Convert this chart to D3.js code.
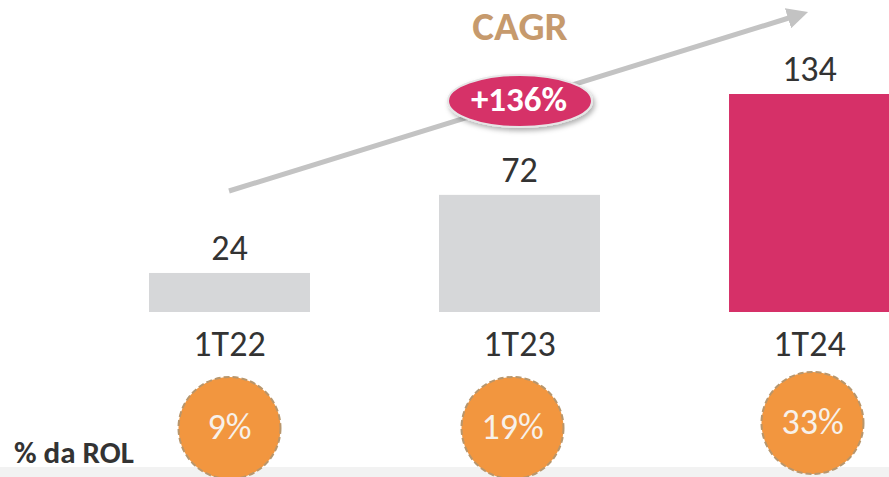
<!DOCTYPE html>
<html>
<head>
<meta charset="utf-8">
<script src="https://cdn.jsdelivr.net/npm/d3@7"></script>
<style>
  html, body { margin: 0; padding: 0; background: #fff; }
  svg { display: block; font-family: Carlito, Lato, "Open Sans", sans-serif; }
</style>
</head>
<body>
<script>
'use strict';

const categories = ['1T22', '1T23', '1T24'];
const values     = [24, 72, 134];
const rolShare   = ['9%', '19%', '33%'];
const cagrLabel  = '+136%';

const width  = 889;
const height = 477;

const colors = {
  grey:   '#d6d7d9',
  pink:   '#d63068',
  orange: '#f2963f',
  tan:    '#c69a6d',
  text:   '#333333',
  arrow:  '#c3c3c3'
};

// circle nudges relative to bar centre (layout only)
const circleDx = [0, -7, 3];
const circleCy = [428, 428, 423];

const svg = d3.select('body').append('svg')
  .attr('width', width)
  .attr('height', height)
  .attr('viewBox', '0 0 ' + width + ' ' + height);

const x = d3.scaleBand()
  .domain(categories)
  .range([84.5, 954.5])
  .paddingInner(0.445)
  .paddingOuter(0.2225);

const y = d3.scaleLinear()
  .domain([0, 134])
  .range([312, 94]);

// bottom band
svg.append('rect')
  .attr('x', 0).attr('y', 467)
  .attr('width', width).attr('height', height - 467)
  .attr('fill', '#f2f2f2');

// bars
svg.selectAll('rect.bar')
  .data(values)
  .join('rect')
  .attr('class', 'bar')
  .attr('x', (d, i) => x(categories[i]))
  .attr('y', d => y(d))
  .attr('width', x.bandwidth())
  .attr('height', d => y(0) - y(d))
  .attr('fill', (d, i) => i === values.length - 1 ? colors.pink : colors.grey);

// value labels
svg.selectAll('text.value')
  .data(values)
  .join('text')
  .attr('class', 'value')
  .attr('x', (d, i) => x(categories[i]) + x.bandwidth() / 2)
  .attr('y', d => y(d) - 13)
  .attr('text-anchor', 'middle')
  .attr('font-size', 36)
  .attr('fill', colors.text)
  .text(d => d);

// category labels
svg.selectAll('text.cat')
  .data(categories)
  .join('text')
  .attr('class', 'cat')
  .attr('x', d => x(d) + x.bandwidth() / 2)
  .attr('y', 356)
  .attr('text-anchor', 'middle')
  .attr('font-size', 36)
  .attr('fill', colors.text)
  .text(d => d);

// CAGR arrow
const defs = svg.append('defs');
defs.append('marker')
  .attr('id', 'head')
  .attr('viewBox', '0 0 10 10')
  .attr('refX', 2).attr('refY', 5)
  .attr('markerWidth', 4.2).attr('markerHeight', 4.2)
  .attr('orient', 'auto')
  .append('path')
  .attr('d', 'M0,0 L10,5 L0,10 Z')
  .attr('fill', colors.arrow);

const shadow = defs.append('filter').attr('id', 'shadow')
  .attr('x', '-20%').attr('y', '-30%').attr('width', '140%').attr('height', '160%');
shadow.append('feDropShadow')
  .attr('dx', 2).attr('dy', 3).attr('stdDeviation', 2.5)
  .attr('flood-color', '#000').attr('flood-opacity', 0.3);

svg.append('line')
  .attr('x1', 229).attr('y1', 191)
  .attr('x2', 792).attr('y2', 17)
  .attr('stroke', colors.arrow)
  .attr('stroke-width', 5)
  .attr('marker-end', 'url(#head)');

svg.append('text')
  .attr('x', 520).attr('y', 40)
  .attr('text-anchor', 'middle')
  .attr('font-size', 41)
  .attr('font-weight', 'bold')
  .attr('fill', colors.tan)
  .text('CAGR');

svg.append('ellipse')
  .attr('cx', 520).attr('cy', 101)
  .attr('rx', 72).attr('ry', 26)
  .attr('fill', colors.pink)
  .attr('stroke', '#e6e6e6')
  .attr('stroke-width', 2)
  .attr('filter', 'url(#shadow)');

svg.append('text')
  .attr('x', 519).attr('y', 111)
  .attr('text-anchor', 'middle')
  .attr('font-size', 35)
  .attr('font-weight', 'bold')
  .attr('fill', '#fff')
  .text(cagrLabel);

// % da ROL circles
svg.append('text')
  .attr('x', 14).attr('y', 463)
  .attr('font-size', 31)
  .attr('font-weight', 'bold')
  .attr('fill', colors.text)
  .text('% da ROL');

const circles = svg.selectAll('g.rol')
  .data(rolShare)
  .join('g')
  .attr('class', 'rol')
  .attr('transform', (d, i) =>
    'translate(' + (x(categories[i]) + x.bandwidth() / 2 + circleDx[i]) + ',' + circleCy[i] + ')');

circles.append('circle')
  .attr('r', 51)
  .attr('fill', colors.orange)
  .attr('stroke', '#b8966c')
  .attr('stroke-width', 2)
  .attr('stroke-dasharray', '6,3');

circles.append('text')
  .attr('y', 11)
  .attr('text-anchor', 'middle')
  .attr('font-size', 36)
  .attr('fill', '#f7f1ea')
  .text(d => d);
</script>
</body>
</html>
